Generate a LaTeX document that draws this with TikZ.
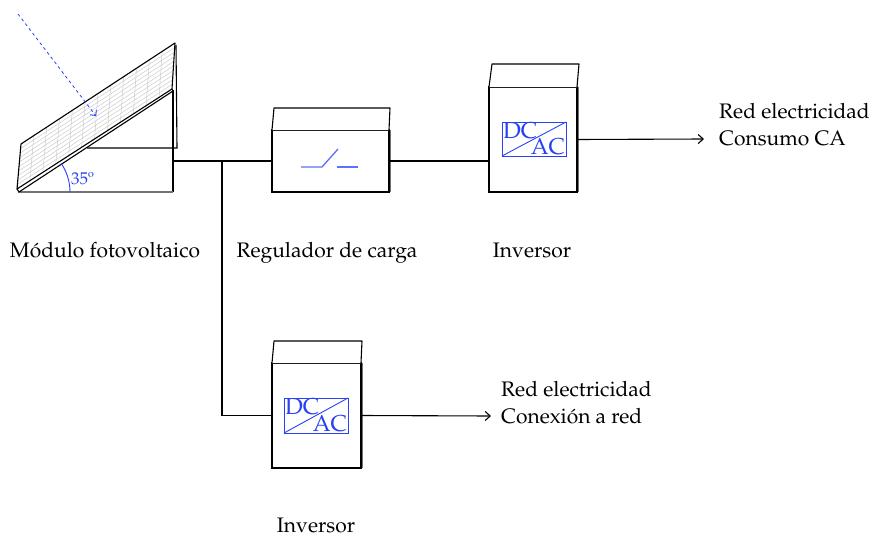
\documentclass[tikz,border=0pt]{standalone}
\usepackage[T1]{fontenc}
\usepackage{textcomp}
\usepackage{mathpazo}
\usetikzlibrary{arrows.meta,calc}
\definecolor{convblue}{RGB}{40,65,245}
\definecolor{swblue}{RGB}{90,115,250}
\begin{document}
\begin{tikzpicture}[x=1pt,y=-1pt,
  face/.style={draw=black,line width=1.1pt,fill=white,inner sep=0pt,outer sep=0pt},
  wire/.style={draw=black,line width=1.1pt},
  feed/.style={wire,-{Straight Barb[length=5pt,width=9pt]}},
  lbl/.style={font=\fontsize{21}{27}\selectfont,inner sep=0pt,align=left},
  conv/.style={draw=convblue,line width=0.9pt,inner sep=0pt,outer sep=0pt},
  convtxt/.style={text=convblue,font=\fontsize{23}{23}\selectfont,inner sep=0.8pt},
  grid line/.style={draw=black!20,line width=0.5pt},
  ray/.style={draw=convblue,dashed,line width=0.8pt,-{Straight Barb[length=4pt,width=8pt]}},
  shade/.style={draw=black!55,line width=1.6pt}
]
\useasboundingbox (0,0) rectangle (873,538);

% ---------- photovoltaic module on its stand ----------
\coordinate (pA) at (17,189);
\coordinate (pB) at (172,89);
\coordinate (pC) at (175,43);
\coordinate (pD) at (21,144);
% rear support
\draw[wire] (176,45) -- (177,148) -- (87,148);
% front block
\draw[wire] (173,90) -- (173,192);
\draw[shade,line width=1.3pt] (18,192) -- (173,192);
% panel surface and cells
\fill[white] (pA) -- (pB) -- (pC) -- (pD) -- cycle;
\foreach \i in {1,...,11}
  \draw[grid line] ($(pA)!\i/12!(pB)$) -- ($(pD)!\i/12!(pC)$);
\foreach \j in {1,...,9}
  \draw[grid line] ($(pA)!\j/10!(pD)$) -- ($(pB)!\j/10!(pC)$);
\draw[wire,line join=round] (pA) -- (pB) -- (pC) -- (pD) -- cycle;
\draw[wire,line join=round] (pA) -- (19,192) -- (173,91) -- (pB);
% tilt angle
\coordinate (tilt) at (19,192);
\draw[convblue,line width=0.9pt] ($(tilt)+(51,0)$) arc[start angle=0,end angle=-34,radius=51];
\node[text=convblue,font=\fontsize{17}{17}\selectfont,inner sep=0pt,anchor=base west] (ang) at (71,184) {35\textordmasculine};
% incoming sunlight
\coordinate (sun) at (18,14);
\coordinate (hit) at (96,116);
\draw[ray] (sun) -- (hit);
\coordinate (pvout) at (173,161);

% ---------- charge regulator ----------
\node[face,minimum width=117pt,minimum height=62pt] (reg) at (330.5,161) {};
\draw[face,line join=round] (reg.north west) -- ++(2,-22) -- ++(116,0) -- (reg.north east);
\draw[shade,line width=1pt] ([xshift=1pt]reg.north east) -- ([xshift=1pt]reg.south east);
\coordinate (sw1) at (301,167);
\coordinate (sw2) at (322,167);
\coordinate (sw3) at (338,149);
\coordinate (sw4) at (337,167);
\coordinate (sw5) at (358,167);
\draw[swblue,line width=1.3pt] (sw1) -- (sw2) -- (sw3);
\draw[swblue,line width=1.3pt] (sw4) -- (sw5);

% ---------- inverter feeding the consumer grid ----------
\node[face,minimum width=88pt,minimum height=105pt] (inv1) at (533,139.5) {};
\draw[face,line join=round] (inv1.north west) -- ++(3,-23) -- ++(87,0) -- (inv1.north east);
\draw[shade,line width=1pt] ([xshift=1pt]inv1.north east) -- ([xshift=1pt]inv1.south east);
\node[conv,minimum width=64pt,minimum height=34pt] (c1) at (534,139) {};
\draw[convblue,line width=0.9pt] (c1.south west) -- (c1.north east);
\node[convtxt,anchor=north west] (c1dc) at (c1.north west) {DC};
\node[convtxt,anchor=south east] (c1ac) at (c1.south east) {AC};

% ---------- grid-tied inverter ----------
\node[face,minimum width=89pt,minimum height=105pt] (inv2) at (316.5,415.5) {};
\draw[face,line join=round] (inv2.north west) -- ++(2,-22) -- ++(88,0) -- (inv2.north east);
\draw[shade,line width=1.4pt] ([xshift=1.2pt]inv2.north east) -- ([xshift=1.2pt]inv2.south east);
\node[conv,minimum width=64pt,minimum height=35pt] (c2) at (316,415.5) {};
\draw[convblue,line width=0.9pt] (c2.south west) -- (c2.north east);
\node[convtxt,anchor=north west] (c2dc) at (c2.north west) {DC};
\node[convtxt,anchor=south east] (c2ac) at (c2.south east) {AC};

% ---------- wiring ----------
\coordinate (junc) at (222,161);
\coordinate (inv1in) at (inv1.west |- 0,161);
\coordinate (grid1) at (704,139);
\coordinate (grid2) at (491,416);
\draw[wire] (pvout) -- (junc) -- (reg.west);
\draw[wire] (reg.east) -- (inv1in);
\draw[wire] (junc) |- (inv2.west);
\draw[feed] (inv1.east) -- (grid1);
\draw[feed] (inv2.east) -- (grid2);

% ---------- labels ----------
\node[lbl,anchor=base] (lpv) at (105,257) {M\'odulo fotovoltaico};
\node[lbl,anchor=base] (lreg) at (327,257) {Regulador de carga};
\node[lbl,anchor=base] (linv1) at (532,257) {Inversor};
\node[lbl,anchor=base] (linv2) at (316,532) {Inversor};
\node[lbl,anchor=base west] (lgrid1) at (719,145) {Red electricidad\\Consumo CA};
\node[lbl,anchor=base west] (lgrid2) at (501,423) {Red electricidad\\Conexi\'on a red};
\end{tikzpicture}
\end{document}
